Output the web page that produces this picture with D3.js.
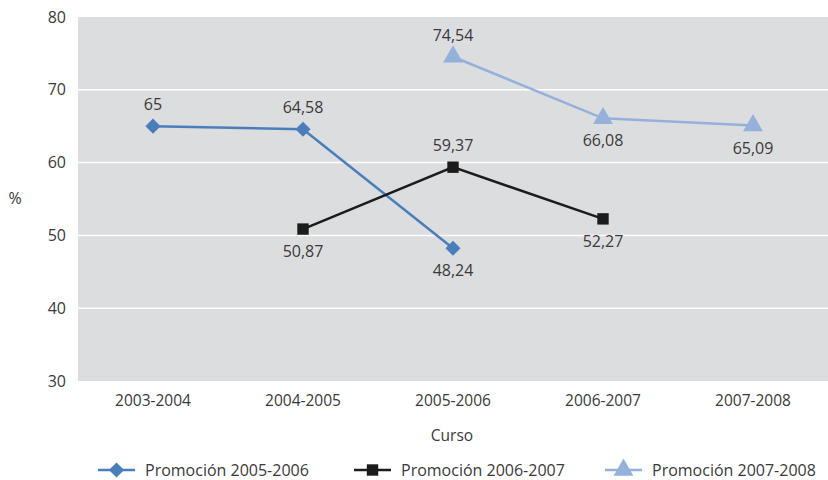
<!DOCTYPE html>
<html><head><meta charset="utf-8">
<script src="https://cdn.jsdelivr.net/npm/d3@7"></script>
<style>body{margin:0;background:#fff}svg{display:block}text{font-family:"Open Sans",sans-serif;fill:#3a3a3a}</style>
</head><body><svg id="c" width="828" height="480"></svg>
<script>
const categories = ["2003-2004","2004-2005","2005-2006","2006-2007","2007-2008"];
const seriesNames = ["Promoción 2005-2006","Promoción 2006-2007","Promoción 2007-2008"];
const s1 = [65, 64.58, 48.24, null, null];
const s2 = [null, 50.87, 59.37, 52.27, null];
const s3 = [null, null, 74.54, 66.08, 65.09];
const labelPos1 = ["above","above","below",null,null];
const labelPos2 = [null,"below","above","below",null];
const labelPos3 = [null,null,"above","below","below"];
const yTicks = [30,40,50,60,70,80];
const colors = ["#4a7ebb","#1c1c1c","#95b0da"];
const markers = [d3.symbolSquare, d3.symbolSquare, d3.symbolTriangle];
const markerRot = [45, 0, 0];
const markerSizes = [115, 130, 170];

const svg = d3.select("#c");
const m = {l:78, r:828, t:17, b:381};
const x = d3.scaleBand().domain(categories).range([m.l, m.r]);
const y = d3.scaleLinear().domain([30,80]).range([m.b, m.t]);

svg.append("rect").attr("x",m.l).attr("y",m.t).attr("width",m.r-m.l).attr("height",m.b-m.t).attr("fill","#dcdddf");
svg.append("g").selectAll("line").data(yTicks.filter(t=>t>30&&t<80)).join("line")
  .attr("x1",m.l).attr("x2",m.r).attr("y1",d=>y(d)).attr("y2",d=>y(d)).attr("stroke","#fff").attr("stroke-width",1.5);

const yAxis = svg.append("g").attr("transform",`translate(${m.l},0)`).call(d3.axisLeft(y).tickValues(yTicks).tickSize(0).tickPadding(12));
yAxis.select(".domain").remove();
yAxis.selectAll("text").attr("font-size",16).attr("fill","#3a3a3a").attr("font-family","Open Sans");

const xAxis = svg.append("g").attr("transform",`translate(0,${m.b})`).call(d3.axisBottom(x).tickSize(0).tickPadding(14));
xAxis.select(".domain").remove();
xAxis.selectAll("text").attr("font-size",15.5).attr("fill","#3a3a3a").attr("font-family","Open Sans");

svg.append("text").attr("x",15).attr("y",204).attr("text-anchor","middle").attr("font-size",16).text("%");
svg.append("text").attr("x",452).attr("y",441).attr("text-anchor","middle").attr("font-size",15.5).text("Curso");

const all = [s1,s2,s3], lps=[labelPos1,labelPos2,labelPos3];
const cx = c => x(c) + x.bandwidth()/2;
const fmt = v => String(v).replace(".",",");
all.forEach((s,i)=>{
  const pts = categories.map((c,j)=>({c, v:s[j], lp:lps[i][j]})).filter(d=>d.v!=null);
  svg.append("path").datum(pts).attr("fill","none").attr("stroke",colors[i]).attr("stroke-width",2.5)
    .attr("d", d3.line().x(d=>cx(d.c)).y(d=>y(d.v)));
  svg.append("g").selectAll("path").data(pts).join("path")
    .attr("transform",d=>`translate(${cx(d.c)},${y(d.v)}) rotate(${markerRot[i]})`)
    .attr("d", d3.symbol().type(markers[i]).size(markerSizes[i])).attr("fill",colors[i]);
  svg.append("g").selectAll("text").data(pts).join("text")
    .attr("x",d=>cx(d.c)).attr("y",d=>d.lp==="above"? y(d.v)-16 : y(d.v)+28)
    .attr("text-anchor","middle").attr("font-size",16).text(d=>fmt(d.v));
});

const legX = [98, 354, 605];
seriesNames.forEach((n,i)=>{
  const g = svg.append("g").attr("transform",`translate(${legX[i]},470)`);
  g.append("line").attr("x1",0).attr("x2",37).attr("stroke",colors[i]).attr("stroke-width",2.5);
  g.append("path").attr("transform",`translate(18.5,0) rotate(${markerRot[i]})`).attr("d",d3.symbol().type(markers[i]).size(markerSizes[i])).attr("fill",colors[i]);
  g.append("text").attr("x",47).attr("y",6).attr("font-size",16).text(n);
});
</script></body></html>
